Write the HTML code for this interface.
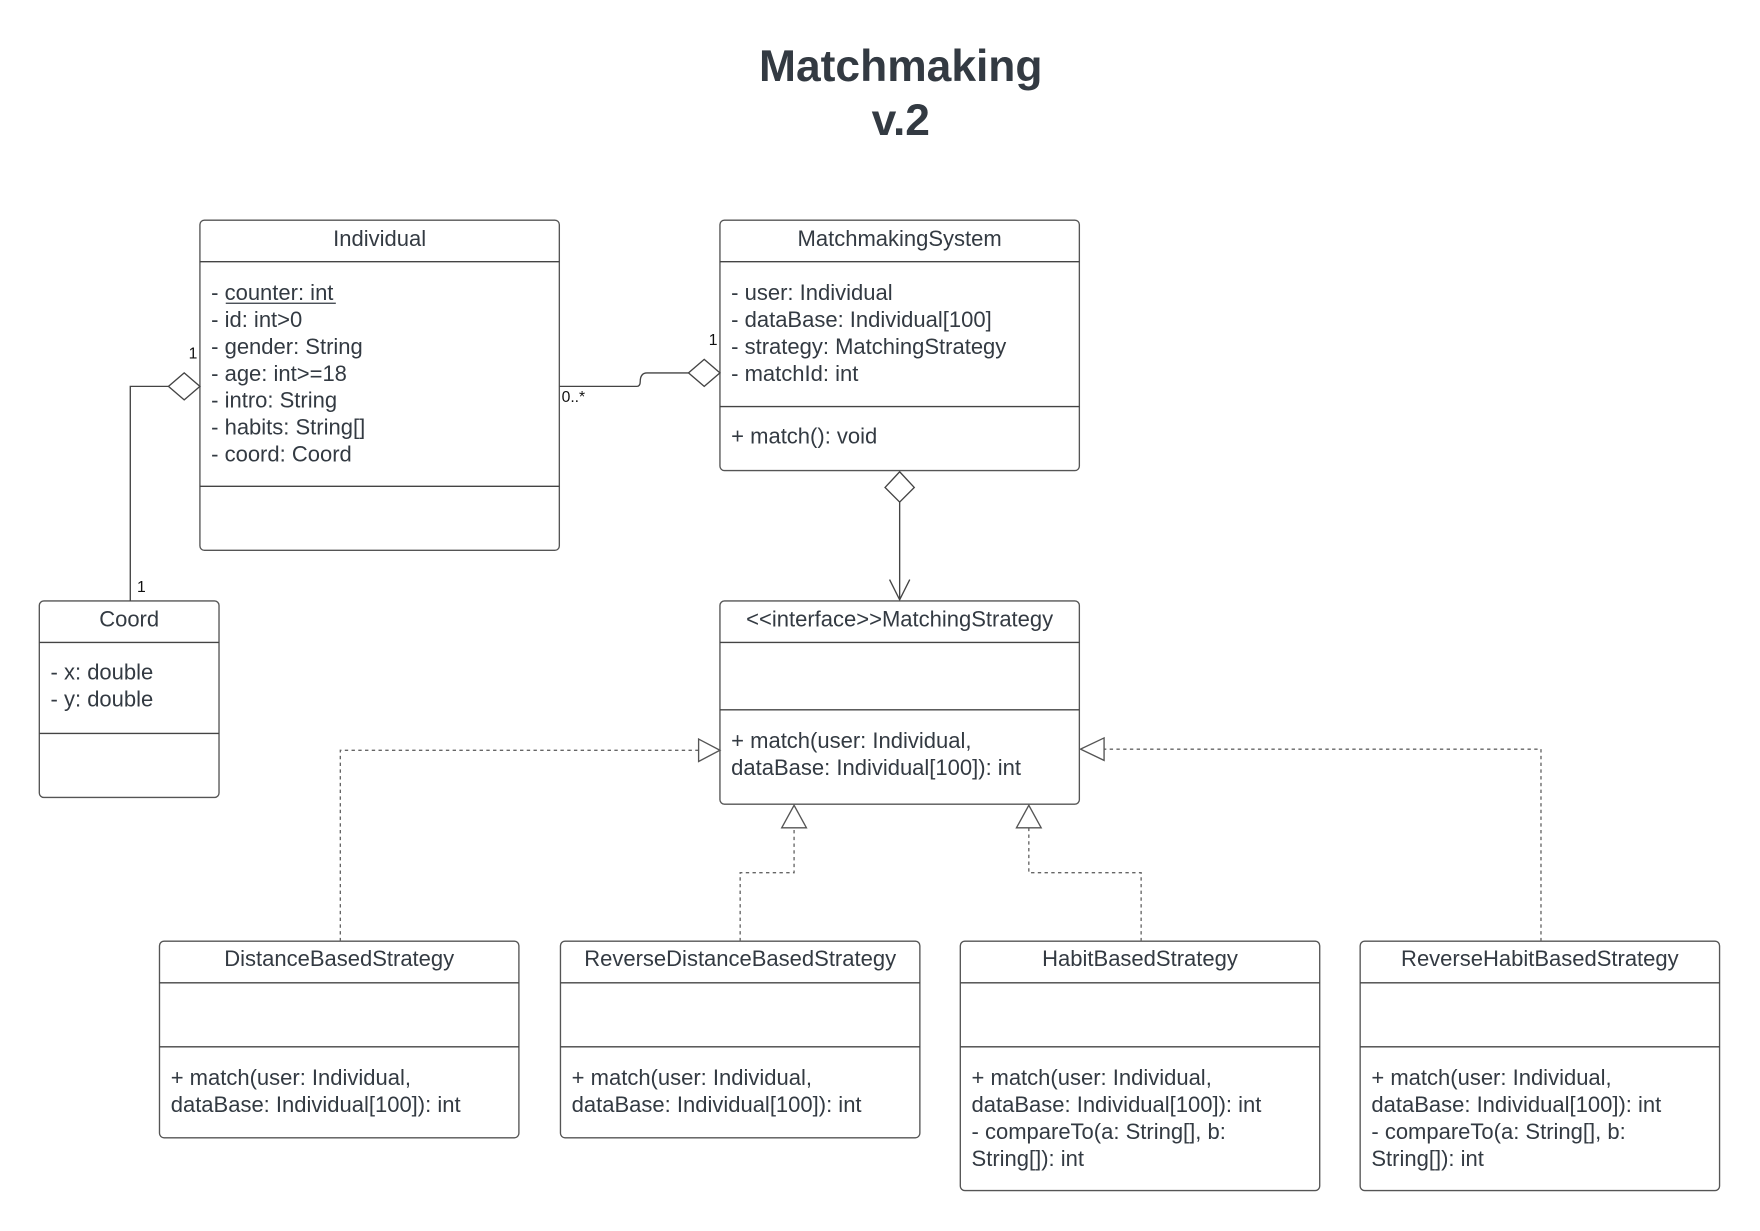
<!DOCTYPE html>
<html><head><meta charset="utf-8"><style>
html,body{margin:0;padding:0;background:#fff}
svg{display:block}
text{font-family:"Liberation Sans",Arial,sans-serif;fill:#333a42}
.t{font-size:19.6px}
.s{font-size:14px;fill:#111}
.b{fill:#fff;stroke:#555;stroke-width:1.2}
.l{stroke:#444;stroke-width:1.2;fill:none}
.d{stroke:#666;stroke-width:1.2;fill:none;stroke-dasharray:3 3}
</style></head><body>
<svg width="1760" height="1231" viewBox="0 0 1567 1096" preserveAspectRatio="none" xmlns="http://www.w3.org/2000/svg">
<text x="802" y="72" text-anchor="middle" style="font-size:39.5px;font-weight:bold">Matchmaking</text>
<text x="802" y="120" text-anchor="middle" style="font-size:39.5px;font-weight:bold">v.2</text>

<rect class="b" x="178" y="196" width="320" height="294" rx="4"/>
<line class="l" x1="178" y1="233" x2="498" y2="233"/>
<line class="l" x1="178" y1="433" x2="498" y2="433"/>
<text class="t" x="338" y="219" text-anchor="middle">Individual</text>
<text class="t" x="188" y="267">- counter: int</text>
<text class="t" x="188" y="291">- id: int&gt;0</text>
<text class="t" x="188" y="315">- gender: String</text>
<text class="t" x="188" y="339">- age: int&gt;=18</text>
<text class="t" x="188" y="363">- intro: String</text>
<text class="t" x="188" y="387">- habits: String[]</text>
<text class="t" x="188" y="411">- coord: Coord</text>
<line x1="201" y1="270" x2="299" y2="270" stroke="#333a42" stroke-width="1.2"/>

<rect class="b" x="641" y="196" width="320" height="223" rx="4"/>
<line class="l" x1="641" y1="233" x2="961" y2="233"/>
<line class="l" x1="641" y1="362" x2="961" y2="362"/>
<text class="t" x="801" y="219" text-anchor="middle">MatchmakingSystem</text>
<text class="t" x="651" y="267">- user: Individual</text>
<text class="t" x="651" y="291">- dataBase: Individual[100]</text>
<text class="t" x="651" y="315">- strategy: MatchingStrategy</text>
<text class="t" x="651" y="339">- matchId: int</text>
<text class="t" x="651" y="395">+ match(): void</text>

<rect class="b" x="35" y="535" width="160" height="175" rx="4"/>
<line class="l" x1="35" y1="572" x2="195" y2="572"/>
<line class="l" x1="35" y1="653" x2="195" y2="653"/>
<text class="t" x="115" y="558" text-anchor="middle">Coord</text>
<text class="t" x="45" y="605">- x: double</text>
<text class="t" x="45" y="629">- y: double</text>

<rect class="b" x="641" y="535" width="320" height="181" rx="4"/>
<line class="l" x1="641" y1="572" x2="961" y2="572"/>
<line class="l" x1="641" y1="632" x2="961" y2="632"/>
<text class="t" x="801" y="558" text-anchor="middle">&lt;&lt;interface&gt;&gt;MatchingStrategy</text>
<text class="t" x="651" y="666">+ match(user: Individual,</text>
<text class="t" x="651" y="690">dataBase: Individual[100]): int</text>

<rect class="b" x="142" y="838" width="320" height="175" rx="4"/>
<line class="l" x1="142" y1="875" x2="462" y2="875"/>
<line class="l" x1="142" y1="932" x2="462" y2="932"/>
<text class="t" x="302" y="860" text-anchor="middle">DistanceBasedStrategy</text>
<text class="t" x="152" y="966">+ match(user: Individual,</text>
<text class="t" x="152" y="990">dataBase: Individual[100]): int</text>

<rect class="b" x="499" y="838" width="320" height="175" rx="4"/>
<line class="l" x1="499" y1="875" x2="819" y2="875"/>
<line class="l" x1="499" y1="932" x2="819" y2="932"/>
<text class="t" x="659" y="860" text-anchor="middle">ReverseDistanceBasedStrategy</text>
<text class="t" x="509" y="966">+ match(user: Individual,</text>
<text class="t" x="509" y="990">dataBase: Individual[100]): int</text>

<rect class="b" x="855" y="838" width="320" height="222" rx="4"/>
<line class="l" x1="855" y1="875" x2="1175" y2="875"/>
<line class="l" x1="855" y1="932" x2="1175" y2="932"/>
<text class="t" x="1015" y="860" text-anchor="middle">HabitBasedStrategy</text>
<text class="t" x="865" y="966">+ match(user: Individual,</text>
<text class="t" x="865" y="990">dataBase: Individual[100]): int</text>
<text class="t" x="865" y="1014">- compareTo(a: String[], b:</text>
<text class="t" x="865" y="1038">String[]): int</text>

<rect class="b" x="1211" y="838" width="320" height="222" rx="4"/>
<line class="l" x1="1211" y1="875" x2="1531" y2="875"/>
<line class="l" x1="1211" y1="932" x2="1531" y2="932"/>
<text class="t" x="1371" y="860" text-anchor="middle">ReverseHabitBasedStrategy</text>
<text class="t" x="1221" y="966">+ match(user: Individual,</text>
<text class="t" x="1221" y="990">dataBase: Individual[100]): int</text>
<text class="t" x="1221" y="1014">- compareTo(a: String[], b:</text>
<text class="t" x="1221" y="1038">String[]): int</text>

<path class="l" d="M116 535 V344 H150"/>
<path class="b" d="M150 344 L164 332 L178 344 L164 356 Z" style="stroke:#444"/>
<text class="s" x="168" y="319">1</text>
<text class="s" x="122" y="527">1</text>

<path class="l" d="M498 344 H567 Q570 344 570 340 Q570 332 576 332 H613"/>
<path class="b" d="M613 332 L627 320 L641 332 L627 344 Z" style="stroke:#444"/>
<text class="s" x="500" y="358">0..*</text>
<text class="s" x="631" y="307">1</text>

<path class="b" d="M801 420 L814 434 L801 447 L788 434 Z" style="stroke:#444"/>
<path class="l" d="M801 447 V534 M792 516 L801 534 L810 516"/>

<path class="d" d="M303 838 V668 H622"/>
<path class="b" d="M622 658 L641 668 L622 678 Z" style="stroke:#555"/>
<path class="d" d="M659 838 V777 H707 V737"/>
<path class="b" d="M696 737 L707 717 L718 737 Z" style="stroke:#555"/>
<path class="d" d="M1016 838 V777 H916 V737"/>
<path class="b" d="M905 737 L916 717 L927 737 Z" style="stroke:#555"/>
<path class="d" d="M1372 838 V667 H983"/>
<path class="b" d="M983 657 L962 667 L983 677 Z" style="stroke:#555"/>
</svg>
</body></html>
